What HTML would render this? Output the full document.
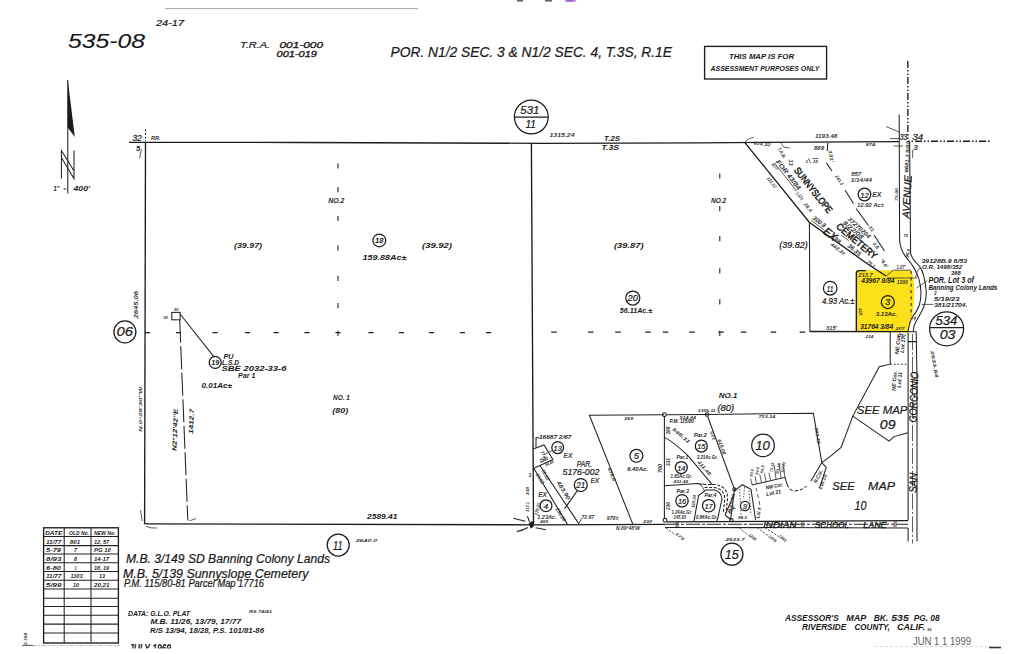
<!DOCTYPE html>
<html lang="en">
<head>
<meta charset="utf-8">
<title>Assessor's Map Bk. 535 Pg. 08</title>
<style>
html,body{margin:0;padding:0;background:#fff;}
body{width:1024px;height:654px;overflow:hidden;position:relative;font-family:"Liberation Sans",sans-serif;}
svg{position:absolute;left:0;top:0;display:block;}
svg text{font-family:"Liberation Sans",sans-serif;font-style:italic;fill:#1a1a1a;stroke:#1a1a1a;stroke-width:.22px;}
.ln{stroke:#222;stroke-width:1.05;fill:none;}
.lt{stroke:#333;stroke-width:0.8;fill:none;}
.hv{stroke:#1c1c1c;stroke-width:1.35;fill:none;}
.ds{stroke:#222;stroke-width:1.1;fill:none;}
.c{stroke:#1c1c1c;stroke-width:1.25;fill:none;}
.b{font-weight:bold;stroke:none;}
.s0{stroke-width:.12px;}
.s1{stroke-width:.32px;}
.s2{stroke-width:.48px;}
.t{font-weight:bold;fill:#333;stroke:none;}
</style>
</head>
<body>
<svg width="1024" height="654" viewBox="0 0 1024 654">
<rect x="0" y="0" width="1024" height="654" fill="#ffffff"/>
<!-- ===== scan artefacts ===== -->
<g id="artefacts">
<line x1="165" y1="8.6" x2="418" y2="8.6" stroke="#9a9a9a" stroke-width="0.9"/>
<rect x="565" y="0" width="11" height="2" fill="#c29ae6"/><rect x="567" y="0" width="6" height="1.4" fill="#9a5fd0"/>
<rect x="517" y="0" width="6" height="1.6" fill="#666"/>
<rect x="545" y="0" width="7" height="1.6" fill="#666"/>
<line x1="22" y1="645.6" x2="120" y2="645.6" stroke="#b5b5b5" stroke-width="0.9" stroke-dasharray="5 1.5 2 1"/>
<line x1="22" y1="645.4" x2="33" y2="645.4" stroke="#666" stroke-width="1.1"/>
<line x1="989" y1="647.5" x2="1001" y2="647.5" stroke="#333" stroke-width="1.6"/>
</g>
<!-- ===== yellow highlighted parcel ===== -->
<path id="hl" d="M858,270.2 L911.6,270.2 L912.4,273 C914.8,285 914.8,300 913.4,308 L912,316.6 C910.5,320 909,326 908,332.2 L855.6,332.2 L855.6,273 Q855.6,270.2 858,270.2 Z" fill="#fae11a"/>
<!-- ===== main section boundary ===== -->
<g id="main">
<polyline class="hv" points="129,142.3 300,142.5 540,143.3 700,142.8 899,141.6"/>
<line class="hv" x1="145.5" y1="142" x2="144.6" y2="524"/>
<polyline class="hv" points="144.6,523.9 533.5,524.8 665,524.3"/>
<line class="hv" x1="531.4" y1="143" x2="533.5" y2="524.8"/>
<!-- quarter-section dashes -->
<path class="ds" d="M338,163.4v5.2M338,187.0v5.2M338,215.9v5.2M338,245.4v5.2M338,275.8v5.2M338,303.0v5.2M338,330.7v5.2M719.8,173.4v5.2M719.8,206.0v5.2M719.8,236.1v5.2M719.8,268.3v5.2M719.8,299.2v5.2M719.8,330.7v5.2M144.9,332.6h5.2M175.9,332.6h5.2M212.4,332.6h5.2M244.9,332.6h5.2M273.6,332.6h5.2M304.4,332.6h5.2M335.4,332.6h5.2M368.4,332.6h5.2M398.9,332.6h5.2M428.9,332.6h5.2M459.8,332.6h5.2M486.0,332.6h5.2M551.2,332.1h5.6M587.9,332.1h5.6M615.2,332.1h5.6M645.2,332.1h5.6M662.7,332.1h5.6M689.2,332.1h5.6M718.2,332.1h5.6M740.8,332.1h5.6M770.6,332.1h5.6M799.7,332.1h5.6"/>
<!-- section corner ticks / dash-dot lines NE corner -->
<line class="ds" x1="145.5" y1="129.5" x2="145.5" y2="141" stroke-dasharray="2 1.6"/>
<line class="hv" x1="907.8" y1="61" x2="907.8" y2="142" stroke-dasharray="7 2 1.5 2 1.5 2"/>
<line class="hv" x1="908" y1="141.2" x2="990" y2="141.2" stroke-dasharray="1.5 2 1.5 2 7 2"/>
</g>
<!-- ===== header texts ===== -->
<g id="header">
<text x="68" y="48" font-size="19.6" textLength="77" lengthAdjust="spacingAndGlyphs" class="s0">535-08</text>
<text x="156" y="25.6" font-size="9.4" textLength="28" lengthAdjust="spacingAndGlyphs">24-17</text>
<text x="240" y="47.6" font-size="9.4" textLength="30" lengthAdjust="spacingAndGlyphs">T.R.A.</text>
<text x="279.5" y="47.6" font-size="8.6" textLength="43.5" lengthAdjust="spacingAndGlyphs" class="s1">001-000</text>
<text x="276.5" y="56.6" font-size="8.4" textLength="40.5" lengthAdjust="spacingAndGlyphs" class="s1">001-019</text>
<text x="390.5" y="57" font-size="14.4" textLength="281.5" lengthAdjust="spacingAndGlyphs">POR. N1/2 SEC. 3 &amp; N1/2 SEC. 4, T.3S, R.1E</text>
<rect class="hv" x="704.6" y="46.4" width="122" height="32.6"/>
<text x="729" y="58.8" font-size="6.3" textLength="65" lengthAdjust="spacingAndGlyphs" class="b">THIS MAP IS FOR</text>
<text x="710.5" y="70.6" font-size="6.3" textLength="109" lengthAdjust="spacingAndGlyphs" class="b">ASSESSMENT PURPOSES ONLY</text>
<!-- adjoining page 531-11 -->
<circle class="c" cx="531.3" cy="117" r="16.9"/>
<line class="c" x1="514.6" y1="117" x2="548" y2="117"/>
<text x="520.3" y="114" font-size="10.6" textLength="19" lengthAdjust="spacingAndGlyphs">531</text>
<text x="525.5" y="128" font-size="11" textLength="10.5" lengthAdjust="spacingAndGlyphs">11</text>
<text x="604" y="140.6" font-size="6.8" textLength="16" lengthAdjust="spacingAndGlyphs" class="b">T.2S</text>
<text x="601.5" y="150" font-size="6.8" textLength="17.5" lengthAdjust="spacingAndGlyphs" class="b">T.3S</text>
<text x="549.5" y="137" font-size="4.6" textLength="25" lengthAdjust="spacingAndGlyphs" class="t">1315.24</text>
</g>
<!-- ===== north arrow ===== -->
<g id="north">
<line class="ln" x1="67.8" y1="80" x2="67.8" y2="193.5"/>
<path d="M67.8,80 L74.8,137 L67.8,127.5 Z" fill="#1a1a1a"/>
<path class="ln" d="M61.4,178.5 V150.5 L74,171 M61.4,157.5 L74,178.5 V150.5" stroke-width="0.9"/>
<text x="53.6" y="191.2" font-size="7.2" textLength="6" lengthAdjust="spacingAndGlyphs" class="b">1"</text>
<text x="63.2" y="190.8" font-size="6" textLength="3" lengthAdjust="spacingAndGlyphs" class="b">=</text>
<text x="73.5" y="191.2" font-size="7.2" textLength="16.5" lengthAdjust="spacingAndGlyphs" class="b">400'</text>
</g>
<!-- ===== west half (sec 4) labels ===== -->
<g id="west">
<text x="132.4" y="140.8" font-size="8.2" textLength="9.4" lengthAdjust="spacingAndGlyphs">32</text>
<text x="151" y="139.6" font-size="5.4" textLength="9.6" lengthAdjust="spacingAndGlyphs" class="t">RR.</text>
<text x="136" y="151" font-size="7.6" class="b">5</text>
<line class="lt" x1="141.5" y1="149" x2="139.5" y2="158.5"/>
<text x="328.3" y="203.4" font-size="6.9" textLength="16" lengthAdjust="spacingAndGlyphs" class="b">NO.2</text>
<text x="234" y="248.4" font-size="7.8" textLength="28" lengthAdjust="spacingAndGlyphs" class="b">(39.97)</text>
<text x="422" y="248.2" font-size="7.8" textLength="30" lengthAdjust="spacingAndGlyphs" class="b">(39.92)</text>
<circle class="c" cx="379.3" cy="240.4" r="6.4"/>
<text x="375" y="243.4" font-size="7.6" textLength="8.6" lengthAdjust="spacingAndGlyphs" class="b">18</text>
<text x="362.5" y="259.8" font-size="7.4" textLength="44" lengthAdjust="spacingAndGlyphs" class="b">159.88Ac±</text>
<!-- page ref 06 -->
<circle class="c" cx="124.9" cy="331.9" r="11"/>
<text x="116.6" y="336.4" font-size="12.4" textLength="16.5" lengthAdjust="spacingAndGlyphs">06</text>
<text transform="translate(137.6,318.5) rotate(-90)" font-size="4.6" textLength="27.5" lengthAdjust="spacingAndGlyphs" class="t">2645.06</text>
<text transform="translate(141.8,432) rotate(-90)" font-size="4.4" textLength="47" lengthAdjust="spacingAndGlyphs" class="t">N.0°28'30"W.</text>
<!-- parcel 19 -->
<rect class="ln" x="171.8" y="312.4" width="8.3" height="7.4"/>
<text x="163.5" y="319" font-size="4.2" class="t">50</text>
<text x="174" y="310.6" font-size="4.2" class="t">50</text>
<line class="ln" x1="180.1" y1="314" x2="214" y2="356.8"/>
<circle class="c" cx="215.2" cy="362.4" r="6"/>
<text x="211.2" y="365.4" font-size="7.6" textLength="8" lengthAdjust="spacingAndGlyphs" class="b">19</text>
<text x="223.5" y="358.6" font-size="6.6" textLength="10" lengthAdjust="spacingAndGlyphs" class="b">PU</text>
<text x="222" y="364.6" font-size="6.4" textLength="17" lengthAdjust="spacingAndGlyphs" class="b">L.S.D</text>
<text x="221.5" y="370.8" font-size="6.8" textLength="65" lengthAdjust="spacingAndGlyphs" class="b">SBE 2032-33-6</text>
<text x="238" y="378.4" font-size="6.6" textLength="17.5" lengthAdjust="spacingAndGlyphs" class="b">Par 1</text>
<text x="201.5" y="387.6" font-size="6.8" textLength="30.5" lengthAdjust="spacingAndGlyphs" class="b">0.01Ac±</text>
<line class="ln" x1="179.7" y1="319.8" x2="187.8" y2="520.5" stroke-dasharray="23 3.5"/>
<path class="lt" d="M189.5,520.8 L196,518.6"/>
<text transform="translate(176.5,451) rotate(-88)" font-size="6.2" textLength="42" lengthAdjust="spacingAndGlyphs" class="b">N2°12'42"E</text>
<text transform="translate(193,434) rotate(-88)" font-size="6.2" textLength="25" lengthAdjust="spacingAndGlyphs" class="b">1412.7</text>
<text x="333" y="400.4" font-size="6.9" textLength="16.8" lengthAdjust="spacingAndGlyphs" class="b">NO. 1</text>
<text x="332.2" y="413" font-size="7.6" textLength="16" lengthAdjust="spacingAndGlyphs" class="b">(80)</text>
<text x="367" y="518.8" font-size="6.4" textLength="30.5" lengthAdjust="spacingAndGlyphs" class="b">2589.41</text>
<path class="lt" d="M140.5,510 L142.2,521 M146,526.4 Q151,528.6 157,528"/>
<!-- page ref 11 -->
<circle class="c" cx="338.2" cy="545" r="11"/>
<text x="333" y="549.6" font-size="12.4" textLength="9.5" lengthAdjust="spacingAndGlyphs">11</text>
<text x="355.7" y="541.6" font-size="4.4" textLength="21.5" lengthAdjust="spacingAndGlyphs" class="t">2640.0</text>
</g>
<!-- ===== east half (sec 3) labels ===== -->
<g id="east">
<text x="711" y="203" font-size="6.9" textLength="15.2" lengthAdjust="spacingAndGlyphs" class="b">NO.2</text>
<text x="614" y="248.2" font-size="7.8" textLength="29.6" lengthAdjust="spacingAndGlyphs" class="b">(39.87)</text>
<text x="779.3" y="248.2" font-size="8.6" textLength="28.4" lengthAdjust="spacingAndGlyphs">(39.82)</text>
<circle class="c" cx="632.8" cy="298" r="7"/>
<text x="627.6" y="301.4" font-size="8.8" textLength="10.4" lengthAdjust="spacingAndGlyphs">20</text>
<text x="619.8" y="313.2" font-size="6.6" textLength="32.4" lengthAdjust="spacingAndGlyphs" class="b">56.11Ac.±</text>
<text x="718.8" y="397.6" font-size="6.9" textLength="18.6" lengthAdjust="spacingAndGlyphs" class="b">NO.1</text>
<text x="717.4" y="411" font-size="8.4" textLength="16.8" lengthAdjust="spacingAndGlyphs">(80)</text>
</g>
<!-- ===== NE corner: cemetery, parcels 11, 12, 3, avenue ===== -->
<g id="ne">
<!-- cemetery west line (A) and strip line (B) -->
<polyline class="hv" points="744.9,142.6 809.3,222.2 867.3,263.8 886,276"/>
<path class="lt" d="M744.9,142.5 Q747,138.6 753.8,137.4"/>
<line class="ln" x1="809.4" y1="222" x2="809.9" y2="331.5"/>
<!-- east dashed line (C) -->
<path class="ln" d="M827.9,142.5 L827.2,151 M826.4,162.9 L832,171 M845,190 L853.5,203.5 M856,208.5 L868.5,225.5 M874,235 L884.5,251"/>
<path class="lt" d="M884.6,262 l-2,-3 M886.4,275.8 L893.2,270.2 M893.2,270.2 H911 M887,278 H917"/>
<!-- parcel 11 / 3 -->
<polyline class="hv" points="809.9,331.5 908,331.6"/>
<path class="hv" d="M856.4,331.6 V273 Q856.4,270.6 859.4,270.6 L866,270.6"/>
<path class="ln" d="M911.1,271 V316" stroke-dasharray="3 3.4"/>
<!-- avenue road edges -->
<path class="ln" d="M899.2,114.5 L899.6,240 C900,249 903,254 907.7,259.4 C912,264 916,270 918.7,278.7 C921,286 921.8,296 919.4,305 C918,309 915,314 912.2,317.2 C910.5,320 909,326 908,331.6"/>
<path class="ln" d="M909.6,141.5 L910.6,253.5 C911.6,257 915,262 919.5,266.1 C922.5,270 925,279 926.2,290.5 C926.4,295 926,300 924.4,305 C923,309 921.5,312 920.6,313.3 C918,318 915,323 914.1,325.6 L913.2,331.7"/>
<!-- NE section corner -->
<text x="899.8" y="140" font-size="8.2" textLength="7.6" lengthAdjust="spacingAndGlyphs">33</text>
<text x="912.4" y="140" font-size="8.2" textLength="10.6" lengthAdjust="spacingAndGlyphs">34</text>
<text x="913.2" y="149.6" font-size="8">3</text>
<path class="lt" d="M886,126.5 L899,132 M890,138.6 H899 M893.5,146 H903 M912.6,150 V158"/>
<!-- avenue label -->
<text transform="translate(909.4,218.5) rotate(-87)" font-size="10.4" textLength="43" lengthAdjust="spacingAndGlyphs">AVENUE</text>
<line class="lt" x1="911.6" y1="176" x2="910" y2="192"/>
<text transform="translate(908.2,172.5) rotate(-87)" font-size="5.2" textLength="31" lengthAdjust="spacingAndGlyphs" class="t">6681.3 9/82</text>
<text transform="translate(898.2,201) rotate(-90)" font-size="4.4" textLength="13" lengthAdjust="spacingAndGlyphs" class="t">75.00</text>
<text x="903.5" y="237" font-size="4.2" class="t">75</text>
<text transform="translate(908.6,258) rotate(-80)" font-size="4.6" textLength="9" lengthAdjust="spacingAndGlyphs" class="t">95.6</text>
<!-- cemetery lettering -->
<text transform="translate(793.4,170.4) rotate(51.5)" font-size="9.6" textLength="55.5" lengthAdjust="spacingAndGlyphs" style="font-style:normal" class="s2">SUNNYSLOPE</text>
<text transform="translate(835.6,227.6) rotate(40)" font-size="9.6" textLength="50" lengthAdjust="spacingAndGlyphs" style="font-style:normal" class="s2">CEMETERY</text>
<text transform="translate(789.4,159.4) rotate(90)" font-size="5.6" class="t">13</text>
<!-- strip annotations -->
<text transform="translate(777.5,148.5) rotate(62)" font-size="4.8" textLength="12" lengthAdjust="spacingAndGlyphs" class="t">T.A.B.</text>
<text transform="translate(775.6,162) rotate(52)" font-size="6.6" textLength="36" lengthAdjust="spacingAndGlyphs" class="t">FOR 43/84</text>
<line class="lt" x1="774.6" y1="163" x2="796.8" y2="191.4"/>
<text transform="translate(771.2,164.6) rotate(52)" font-size="4.4" textLength="8" lengthAdjust="spacingAndGlyphs" class="t">677</text>
<text transform="translate(795.6,193.4) rotate(52)" font-size="4.8" textLength="9" lengthAdjust="spacingAndGlyphs" class="t">1.57±</text>
<text transform="translate(803.6,204.6) rotate(52)" font-size="5" textLength="10" lengthAdjust="spacingAndGlyphs" class="t">26.4</text>
<text transform="translate(812,219) rotate(37)" font-size="6.4" textLength="15" lengthAdjust="spacingAndGlyphs" class="t">300.8</text>
<line class="lt" x1="811.2" y1="220.4" x2="824.4" y2="230.2"/>
<text transform="translate(822.6,232.8) rotate(38)" font-size="11" textLength="14" lengthAdjust="spacingAndGlyphs" class="s2">EX</text>
<text transform="translate(833.4,239.6) rotate(38)" font-size="5.6" textLength="7" lengthAdjust="spacingAndGlyphs" class="t">98</text>
<text transform="translate(766.4,178.4) rotate(51)" font-size="4.6" textLength="13" lengthAdjust="spacingAndGlyphs" class="t">121.12</text>
<text transform="translate(830.2,245.2) rotate(37)" font-size="5" textLength="17" lengthAdjust="spacingAndGlyphs" class="t">442.3±</text>
<text transform="translate(847,246.4) rotate(40)" font-size="6.2" textLength="15.5" lengthAdjust="spacingAndGlyphs" class="t">36.35</text>
<line class="lt" x1="841.2" y1="235.2" x2="848.8" y2="240.8"/>
<text transform="translate(866.6,262.6) rotate(38)" font-size="4.8" textLength="9" lengthAdjust="spacingAndGlyphs" class="t">75.1</text>
<text transform="translate(847.2,219.8) rotate(42)" font-size="6.2" textLength="28.5" lengthAdjust="spacingAndGlyphs" class="t">37270204</text>
<text transform="translate(842.6,223.6) rotate(40)" font-size="6.2" textLength="24.5" lengthAdjust="spacingAndGlyphs" class="t">8/22/08</text>
<text transform="translate(835,176.5) rotate(56)" font-size="4.6" textLength="11" lengthAdjust="spacingAndGlyphs" class="t">241.3</text>
<text transform="translate(868.5,227) rotate(56)" font-size="4.6" textLength="6" lengthAdjust="spacingAndGlyphs" class="t">31</text>
<text transform="translate(872.6,243.6) rotate(56)" font-size="4.8" textLength="7" lengthAdjust="spacingAndGlyphs" class="t">3.6</text>
<text transform="translate(881,261.6) rotate(56)" font-size="4.8" textLength="8" lengthAdjust="spacingAndGlyphs" class="t">4.6'</text>
<text transform="translate(828.4,150.5) rotate(80)" font-size="4.8" textLength="12" lengthAdjust="spacingAndGlyphs" class="t">131'</text>
<!-- top-line annotations -->
<text transform="translate(753.4,144.6) rotate(6)" font-size="4.4" textLength="17" lengthAdjust="spacingAndGlyphs" class="t">674.32</text>
<text x="815" y="138.4" font-size="4.8" textLength="22.5" lengthAdjust="spacingAndGlyphs" class="t">1193.48</text>
<text x="814" y="150.2" font-size="4.6" textLength="10" lengthAdjust="spacingAndGlyphs" class="t">889</text>
<text x="865.8" y="146.4" font-size="4.4" textLength="10" lengthAdjust="spacingAndGlyphs" class="t">87A</text>
<path class="lt" d="M781,143 l2.5,4 l6,1 M808,158 l3,5 M812.5,158.6 h6"/>
<text x="805.5" y="162.5" font-size="4.4" class="t">1</text>
<text x="813" y="163" font-size="4.4" class="t">15</text>
<!-- parcel 12 -->
<text x="851.2" y="176" font-size="5.4" textLength="10" lengthAdjust="spacingAndGlyphs" class="t">857</text>
<text x="850.7" y="182.4" font-size="5.6" textLength="21.4" lengthAdjust="spacingAndGlyphs" class="t">1/14/44</text>
<circle class="c" cx="864.5" cy="194.5" r="6.3"/>
<text x="860.2" y="197.6" font-size="8" textLength="8.6" lengthAdjust="spacingAndGlyphs">12</text>
<text x="872.2" y="197.4" font-size="8" textLength="9.2" lengthAdjust="spacingAndGlyphs">EX</text>
<text x="857" y="207.4" font-size="5.6" textLength="27" lengthAdjust="spacingAndGlyphs" class="t">12.92 Ac±</text>
<!-- parcel 11 -->
<circle class="c" cx="830.2" cy="288.2" r="6.8"/>
<text x="826.6" y="291.6" font-size="9" textLength="7" lengthAdjust="spacingAndGlyphs">11</text>
<text x="821.9" y="304.4" font-size="8.4" textLength="32.6" lengthAdjust="spacingAndGlyphs">4.93 Ac.±</text>
<text x="826" y="329.6" font-size="4.6" textLength="11" lengthAdjust="spacingAndGlyphs" class="t">315'</text>
<text transform="translate(858.4,308.6) rotate(80)" font-size="4.4" textLength="7" lengthAdjust="spacingAndGlyphs" class="t">418</text>
<!-- parcel 3 (highlighted) -->
<text x="858.6" y="277" font-size="4.6" textLength="14" lengthAdjust="spacingAndGlyphs" class="t">213.7</text>
<text x="861.2" y="282.8" font-size="6.4" textLength="33.4" lengthAdjust="spacingAndGlyphs" class="b">43967 8/84</text>
<text x="896.5" y="269.4" font-size="4.6" textLength="9" lengthAdjust="spacingAndGlyphs" class="t">1.07'</text>
<text x="896.8" y="284" font-size="4.6" textLength="11" lengthAdjust="spacingAndGlyphs" class="t">1200</text>
<circle class="c" cx="887.8" cy="302" r="6.5"/>
<text x="885.2" y="305.4" font-size="9" textLength="5" lengthAdjust="spacingAndGlyphs">3</text>
<text x="875.8" y="315.8" font-size="6" textLength="21.2" lengthAdjust="spacingAndGlyphs" class="b">3.13Ac.</text>
<text x="860.2" y="329.2" font-size="6.4" textLength="33" lengthAdjust="spacingAndGlyphs" class="b">31764 3/84</text>
<text x="895.5" y="330.4" font-size="4.2" textLength="9" lengthAdjust="spacingAndGlyphs" class="t">207</text>
<text x="865.5" y="337.6" font-size="4.4" textLength="8" lengthAdjust="spacingAndGlyphs" class="t">214</text>
<path class="lt" d="M912,319 l3.5,-2 l-1,3.4"/>
<!-- notes east of avenue -->
<text x="921.4" y="263" font-size="6.2" textLength="45.8" lengthAdjust="spacingAndGlyphs" class="b">39128B.9 6/53</text>
<text x="922" y="269.2" font-size="6.2" textLength="40.2" lengthAdjust="spacingAndGlyphs" class="b">O.R. 1498/352</text>
<text x="951" y="275.2" font-size="6" textLength="9.6" lengthAdjust="spacingAndGlyphs" class="b">368</text>
<text x="928.4" y="282.8" font-size="8.2" textLength="45.6" lengthAdjust="spacingAndGlyphs" class="b">POR. Lot 3 of</text>
<text x="928.4" y="289.8" font-size="7.6" textLength="69" lengthAdjust="spacingAndGlyphs" class="b">Banning Colony Lands</text>
<text x="934" y="295" font-size="4.8" class="t">2</text>
<text x="934" y="300.8" font-size="6.2" textLength="25.6" lengthAdjust="spacingAndGlyphs" class="b">5/19/23</text>
<text x="934" y="306.6" font-size="6.2" textLength="33.4" lengthAdjust="spacingAndGlyphs" class="b">381/21704.</text>
<path class="lt" d="M927.2,280.6 L916.4,288.2 M933.4,304.4 H921.6 M921,267 Q917,270 915.6,277.6"/>
<!-- adjoining page 534-03 -->
<circle class="c" cx="946.6" cy="328.8" r="17"/>
<line class="c" x1="929.7" y1="327.6" x2="963.5" y2="327.6"/>
<text x="935.4" y="325" font-size="13" textLength="21.8" lengthAdjust="spacingAndGlyphs">534</text>
<text x="939.7" y="338.6" font-size="13" textLength="15.8" lengthAdjust="spacingAndGlyphs">03</text>
</g>
<!-- ===== SE area: parcels 4, 13, 21, 5, 14-17, 9, 10, see-map areas, roads ===== -->
<g id="se">
<!-- parcel 13 / 4 / 21 -->
<path class="ln" d="M533.2,449 L544,445 L552.9,459.5 L533,468.8"/>
<path class="ln" d="M536,447.6 V437.8 H539.2"/>
<line class="lt" x1="540.6" y1="462.6" x2="548" y2="459.2"/>
<path class="ln" d="M534.2,469 L567.5,524.6 M540.2,466 L579.4,524.6"/>
<text x="539" y="438.8" font-size="6.2" textLength="32.4" lengthAdjust="spacingAndGlyphs" class="b">16687 2/67</text>
<circle class="c" cx="557.7" cy="447.6" r="5.9"/>
<text x="553.6" y="450.6" font-size="7.8" textLength="8.2" lengthAdjust="spacingAndGlyphs">13</text>
<line class="lt" x1="552.4" y1="450.4" x2="545.6" y2="453.8"/>
<text x="563.6" y="457.8" font-size="8" textLength="8.8" lengthAdjust="spacingAndGlyphs">EX</text>
<text transform="translate(540.5,452) rotate(58)" font-size="4.4" textLength="9" lengthAdjust="spacingAndGlyphs" class="t">77.2</text>
<text transform="translate(540.5,462.5) rotate(-28)" font-size="5" textLength="7" lengthAdjust="spacingAndGlyphs" class="t">150</text>
<text transform="translate(546,466.8) rotate(-28)" font-size="4.6" textLength="9" lengthAdjust="spacingAndGlyphs" class="t">94.45</text>
<text x="576.7" y="467.2" font-size="8.2" textLength="15.4" lengthAdjust="spacingAndGlyphs">PAR.</text>
<text x="562.6" y="475.4" font-size="8.6" textLength="36.8" lengthAdjust="spacingAndGlyphs">5176-002</text>
<circle class="c" cx="580.8" cy="485" r="6.5"/>
<text x="576.2" y="488.4" font-size="8.8" textLength="9" lengthAdjust="spacingAndGlyphs">21</text>
<text x="590.4" y="483.4" font-size="8" textLength="8.6" lengthAdjust="spacingAndGlyphs">EX</text>
<line class="ln" x1="577.4" y1="490.6" x2="564.6" y2="508.6"/>
<text transform="translate(556.6,482.6) rotate(58.5)" font-size="5.6" textLength="20.5" lengthAdjust="spacingAndGlyphs" class="t">483.90</text>
<text transform="translate(541,470.6) rotate(58.5)" font-size="4.8" textLength="12" lengthAdjust="spacingAndGlyphs" class="t">72.12</text>
<text transform="translate(535.6,474.4) rotate(58.5)" font-size="4.8" textLength="12" lengthAdjust="spacingAndGlyphs" class="t">34.51</text>
<text transform="translate(555.5,509) rotate(58.5)" font-size="4.8" textLength="15" lengthAdjust="spacingAndGlyphs" class="t">238.20</text>
<text x="528.4" y="477.4" font-size="5.4" class="t">1</text>
<text transform="translate(529.4,495) rotate(-90)" font-size="4.2" textLength="8" lengthAdjust="spacingAndGlyphs" class="t">418</text>
<text transform="translate(528.6,512) rotate(-90)" font-size="4.2" textLength="10" lengthAdjust="spacingAndGlyphs" class="t">317.1</text>
<text transform="translate(537.6,515.4) rotate(-75)" font-size="4.8" textLength="12" lengthAdjust="spacingAndGlyphs" class="t">179.20</text>
<text x="538.2" y="497" font-size="8" textLength="8.8" lengthAdjust="spacingAndGlyphs">EX</text>
<circle class="c" cx="546" cy="505.7" r="5.9"/>
<text x="543.6" y="508.8" font-size="8" textLength="4.8" lengthAdjust="spacingAndGlyphs">4</text>
<text x="537.2" y="518.6" font-size="5.6" textLength="19.6" lengthAdjust="spacingAndGlyphs" class="t">1.23Ac.</text>
<text x="540" y="523" font-size="4" textLength="8" lengthAdjust="spacingAndGlyphs" class="t">469</text>
<text x="581.4" y="518.6" font-size="5.4" textLength="12.6" lengthAdjust="spacingAndGlyphs" class="t">72.97</text>
<path class="lt" d="M579.4,523 L581.2,518.6"/>
<path d="M528.4,524 L531.2,521.4 L534.6,521.2 L533.4,524.2 L533.6,526.6 L530.6,528.8 L530,526.4 Z" fill="#1a1a1a"/>
<path class="ln" stroke-width="1.2" d="M513.4,518.3 L525.3,521.2 M516.7,531.5 Q523,530.6 527.7,527.5 M546,529.7 L535.7,527.8 M527.4,516.2 L529.6,522"/>
<text x="606.7" y="520" font-size="5.4" textLength="11.8" lengthAdjust="spacingAndGlyphs" class="t">970±</text>
<text x="616" y="529.6" font-size="4.6" textLength="24" lengthAdjust="spacingAndGlyphs" class="t">N.89°48'W</text>
<!-- parcel 5 -->
<polyline class="ln" points="633,524.6 589.4,415.3 664.4,414.7"/>
<circle class="c" cx="636.4" cy="455.8" r="6.5"/>
<text x="633.8" y="459.2" font-size="9" textLength="5.2" lengthAdjust="spacingAndGlyphs">5</text>
<text x="627.2" y="471" font-size="6" textLength="20.6" lengthAdjust="spacingAndGlyphs" class="b">6.40Ac.</text>
<text x="624.3" y="420" font-size="4.4" textLength="9" lengthAdjust="spacingAndGlyphs" class="t">269</text>
<text transform="translate(607.6,468.4) rotate(68)" font-size="4.8" textLength="14" lengthAdjust="spacingAndGlyphs" class="t">676.8</text>
<text transform="translate(662.4,473) rotate(-90)" font-size="4.6" textLength="9" lengthAdjust="spacingAndGlyphs" class="t">760</text>
<text x="643" y="522.6" font-size="4.4" textLength="9" lengthAdjust="spacingAndGlyphs" class="t">230</text>
<!-- parcels 14-17 -->
<line class="ln" x1="664.4" y1="416.6" x2="664.4" y2="518.4"/>
<circle cx="664.4" cy="414.7" r="1.9" fill="#fff" class="ln"/>
<circle cx="665" cy="520.3" r="1.9" fill="#fff" class="ln"/>
<polyline class="ln" points="666.2,414.7 707,414.4 813.4,413.3 821.8,462.6"/>
<circle cx="707" cy="414.5" r="1.7" fill="#fff" class="ln"/>
<path class="ln" d="M707.6,416.2 L734.4,489 L730.8,518"/>
<circle cx="734.4" cy="489.4" r="1.6" fill="#fff" class="ln"/>
<path class="ln" d="M664.4,437.4 C672,441 680,448 689.1,456.8 L712.6,485.1"/>
<path class="ln" d="M664.4,485.8 L698,483.6 Q700.5,483.6 701.6,485.4"/>
<text x="669.6" y="423.2" font-size="5.8" textLength="24.4" lengthAdjust="spacingAndGlyphs" class="b">P.M. 115/80</text>
<text x="679.4" y="418.8" font-size="4.2" textLength="16.6" lengthAdjust="spacingAndGlyphs" class="t">514.94</text>
<text x="698" y="412.2" font-size="4.4" textLength="17.6" lengthAdjust="spacingAndGlyphs" class="t">1356.11</text>
<text x="758.6" y="417.8" font-size="4.4" textLength="16.6" lengthAdjust="spacingAndGlyphs" class="t">753.14</text>
<text transform="translate(669.8,434.6) rotate(-90)" font-size="4.6" textLength="8" lengthAdjust="spacingAndGlyphs" class="t">168</text>
<text transform="translate(671.6,429.6) rotate(40)" font-size="4.8" textLength="22" lengthAdjust="spacingAndGlyphs" class="t">346.11</text>
<text transform="translate(697,462.4) rotate(48)" font-size="4.8" textLength="18" lengthAdjust="spacingAndGlyphs" class="t">411.48</text>
<text transform="translate(669.6,466) rotate(-90)" font-size="4.6" textLength="8" lengthAdjust="spacingAndGlyphs" class="t">331</text>
<text transform="translate(669.6,510) rotate(-90)" font-size="4.6" textLength="8" lengthAdjust="spacingAndGlyphs" class="t">230</text>
<text x="694" y="437.4" font-size="5.8" textLength="12.8" lengthAdjust="spacingAndGlyphs" class="b">Par.2</text>
<circle class="c" cx="701.3" cy="446" r="6"/>
<text x="697.2" y="449.2" font-size="8" textLength="8.2" lengthAdjust="spacingAndGlyphs">15</text>
<text x="697" y="458.8" font-size="5.6" textLength="20.5" lengthAdjust="spacingAndGlyphs" class="b">3.23Ac.Gr.</text>
<text x="676.4" y="458.8" font-size="5.6" textLength="11.8" lengthAdjust="spacingAndGlyphs" class="b">Par.1</text>
<circle class="c" cx="681.3" cy="467.5" r="6"/>
<text x="677.2" y="470.6" font-size="8" textLength="8.2" lengthAdjust="spacingAndGlyphs">14</text>
<text x="670.5" y="478.4" font-size="5.4" textLength="21.5" lengthAdjust="spacingAndGlyphs" class="b">1.63Ac.Gr.</text>
<text x="673.5" y="483.4" font-size="4.4" textLength="14.6" lengthAdjust="spacingAndGlyphs" class="t">431.48</text>
<text x="676.4" y="492.6" font-size="5.6" textLength="12.6" lengthAdjust="spacingAndGlyphs" class="b">Par.3</text>
<circle class="c" cx="682" cy="500.8" r="6.2"/>
<text x="678" y="504" font-size="8" textLength="8.2" lengthAdjust="spacingAndGlyphs">16</text>
<text x="671.5" y="513.6" font-size="5.4" textLength="20.5" lengthAdjust="spacingAndGlyphs" class="b">1.24Ac.Gr.</text>
<text x="673.5" y="518.6" font-size="4.6" textLength="12.6" lengthAdjust="spacingAndGlyphs" class="t">145.93</text>
<text transform="translate(694.6,508) rotate(-84)" font-size="4.4" textLength="13" lengthAdjust="spacingAndGlyphs" class="t">169.54</text>
<!-- parcel 17 and curved lane -->
<path class="ln" d="M693.9,521.6 L696.3,508 L698.6,495.6 L705.6,490 H714.5 Q721,491.5 722,498.8 L718,517.5 L716.4,521.6"/>
<path class="lt" d="M700,484.4 Q703,483 706,484.8 M701.6,485.4 L704.6,491" />
<path class="ln" d="M704.5,487.4 H714 Q724.6,489 724.8,499 L723.4,512" stroke-dasharray="3 1.6"/>
<path class="ln" d="M703.5,484.4 H715 Q727.6,486.4 727.6,498 L726,513" stroke-dasharray="3 1.6"/>
<text x="704.4" y="497.4" font-size="5.6" textLength="12" lengthAdjust="spacingAndGlyphs" class="b">Par.4</text>
<circle class="c" cx="708.7" cy="505.7" r="6.2"/>
<text x="704.8" y="508.8" font-size="8" textLength="7.8" lengthAdjust="spacingAndGlyphs">17</text>
<text x="696" y="518.6" font-size="5.4" textLength="21.5" lengthAdjust="spacingAndGlyphs" class="b">0.84Ac.Gr.</text>
<text transform="translate(709.8,432) rotate(70)" font-size="4.4" textLength="9" lengthAdjust="spacingAndGlyphs" class="t">N.6°E</text>
<text transform="translate(717.4,440) rotate(70)" font-size="5" textLength="16" lengthAdjust="spacingAndGlyphs" class="t">615.08</text>
<text transform="translate(731.6,512) rotate(-80)" font-size="4.4" textLength="18" lengthAdjust="spacingAndGlyphs" class="t">132.30</text>
<!-- parcel 9 -->
<path class="ln" d="M734.4,491 L742.3,484.7 L751,489.4 L755.6,519.8 M725,515 L731.4,520 M725,515 L734.2,494"/>
<circle cx="731.4" cy="520" r="1.7" fill="#fff" class="ln"/>
<circle class="c" cx="745" cy="506" r="4.6"/>
<text x="743" y="508.6" font-size="7" textLength="4" lengthAdjust="spacingAndGlyphs">9</text>
<path class="lt" d="M739.6,489 l1.6,28 M744.6,487 l-1,11 M749,490.6 l2,24" stroke-dasharray="1.6 1.4"/>
<text transform="translate(729.5,514) rotate(-42)" font-size="5" textLength="9" lengthAdjust="spacingAndGlyphs" class="t">EX</text>
<text x="738" y="519.4" font-size="4.2" textLength="9" lengthAdjust="spacingAndGlyphs" class="t">94.5</text>
<text transform="translate(759.4,518.4) rotate(-80)" font-size="5.2" textLength="11" lengthAdjust="spacingAndGlyphs" class="t">Lot A</text>
<!-- small lots north of NW Cor lot 21 -->
<path class="ln" d="M751.8,485.1 L785,477.3 L787,484.2"/>
<path class="ln" d="M787,484.2 Q789,490 794,491 Q800,491.2 806.6,486.2" stroke-dasharray="3.4 2"/>
<path class="lt" d="M752,484.6 l-1.4,-6 M756.6,483.6 l-1.6,-7.4 M761.4,482.4 l-1.6,-8 M766,481.4 l-1.6,-8 M770.6,480.4 l-1.6,-7.6 M776,479 l-1.8,-14 M781,478 l-1.8,-14 M785,477.3 l-2,-14"/>
<text transform="translate(752.4,477) rotate(-80)" font-size="4" textLength="8" lengthAdjust="spacingAndGlyphs" class="t">50.5</text>
<text transform="translate(758,475) rotate(-80)" font-size="4" textLength="8" lengthAdjust="spacingAndGlyphs" class="t">54.5</text>
<text transform="translate(763,473.4) rotate(-80)" font-size="4" textLength="8" lengthAdjust="spacingAndGlyphs" class="t">54.5</text>
<text transform="translate(772.6,472) rotate(-80)" font-size="4" textLength="9" lengthAdjust="spacingAndGlyphs" class="t">75.18</text>
<text transform="translate(778.6,474) rotate(-80)" font-size="4" textLength="11" lengthAdjust="spacingAndGlyphs" class="t">93.16</text>
<text transform="translate(783.6,473) rotate(-80)" font-size="4" textLength="11" lengthAdjust="spacingAndGlyphs" class="t">117.21</text>
<text transform="translate(766,489.6) rotate(-11)" font-size="5.4" textLength="17.5" lengthAdjust="spacingAndGlyphs" class="b">NW Cor.</text>
<text transform="translate(766.6,496) rotate(-11)" font-size="5.4" textLength="15" lengthAdjust="spacingAndGlyphs" class="b">Lot 21</text>
<path class="lt" d="M756,488 l1,3.4 M757.4,494 l1,4 M759,501 l0.8,4" />
<!-- parcel 10 -->
<circle class="c" cx="763" cy="445.4" r="11.3"/>
<text x="755.2" y="450.4" font-size="13.4" textLength="14.6" lengthAdjust="spacingAndGlyphs">10</text>
<text transform="translate(814.4,427.4) rotate(80)" font-size="4.6" textLength="17" lengthAdjust="spacingAndGlyphs" class="t">383.49</text>
<!-- N cor lot 19 -->
<path class="ln" d="M821.8,462.6 L826.2,467.4 L819.6,488 M821.8,462.6 L811,481"/>
<text transform="translate(816.6,483.4) rotate(-64)" font-size="5.4" textLength="14" lengthAdjust="spacingAndGlyphs" class="t">N.Cor.</text>
<text transform="translate(821.6,489.4) rotate(-68)" font-size="5.4" textLength="15" lengthAdjust="spacingAndGlyphs" class="t">Lot 19</text>
<!-- see map 09 / 10 outlines -->
<polyline class="ln" points="821.8,462.6 829.4,457.2 841.1,447.4 852.8,416.1 879.3,366.8 890.2,364.2 890.2,331.6"/>
<polyline class="ln" points="852.8,416.1 889,441.2 894,436.6 908,432.8"/>
<line class="ln" x1="890.4" y1="364.2" x2="908" y2="364.2" stroke-dasharray="1.6 2"/>
<text x="856.8" y="413.8" font-size="11.8" textLength="50.6" lengthAdjust="spacingAndGlyphs">SEE MAP</text>
<text x="879.8" y="428.8" font-size="12" textLength="15.8" lengthAdjust="spacingAndGlyphs">09</text>
<text x="832.3" y="489.8" font-size="11.8" textLength="22.5" lengthAdjust="spacingAndGlyphs">SEE</text>
<text x="868.1" y="489.8" font-size="11.8" textLength="26.8" lengthAdjust="spacingAndGlyphs">MAP</text>
<text x="854.4" y="510.2" font-size="12" textLength="12" lengthAdjust="spacingAndGlyphs">10</text>
<text transform="translate(898.6,354.6) rotate(-85)" font-size="5.2" textLength="21" lengthAdjust="spacingAndGlyphs" class="b">NE Cor.</text>
<text transform="translate(903.8,353) rotate(-85)" font-size="5.2" textLength="18" lengthAdjust="spacingAndGlyphs" class="b">Lot 17.</text>
<text transform="translate(895.2,391) rotate(-85)" font-size="5.2" textLength="20" lengthAdjust="spacingAndGlyphs" class="b">NE Cor.</text>
<text transform="translate(900.6,388) rotate(-85)" font-size="5.2" textLength="16" lengthAdjust="spacingAndGlyphs" class="b">Lot 11</text>
<text transform="translate(930.6,351) rotate(80)" font-size="4.6" textLength="27" lengthAdjust="spacingAndGlyphs" class="t">2633.64</text>
<path class="lt" d="M899.5,333 l4,3 M906,334.6 l-5.6,5.4"/>
<text x="897" y="336.6" font-size="3.8" class="t">127</text>
<!-- San Gorgonio Avenue -->
<path class="ln" d="M908.1,332.4V520.6M908.1,527.9V541.6"/>
<path class="ln" d="M916.2,331.8 L917,380 V541.6 M908,331.8 H916.2 M908,341.6 H916.4"/>
<line class="lt" x1="912.5" y1="334" x2="912.5" y2="543.4" stroke-dasharray="16 2.4 2 2.4"/>
<text transform="translate(916.6,422.4) rotate(-88)" font-size="10.8" textLength="50.4" lengthAdjust="spacingAndGlyphs" class="s1">GORGONIO</text>
<text transform="translate(916.6,492.8) rotate(-88)" font-size="10.8" textLength="19.8" lengthAdjust="spacingAndGlyphs" class="s1">SAN</text>
<!-- Indian School Lane -->
<polyline class="hv" points="666.8,521.9 908,520.6"/>
<polyline class="ln" points="665,524.2 740,524.3 908,524.2" stroke-dasharray="14 2 3 2"/>
<polyline class="ln" points="665,527.4 908,527.9"/>
<text x="763" y="527.8" font-size="9.2" textLength="33.5" lengthAdjust="spacingAndGlyphs" class="s1">INDIAN</text>
<text x="815" y="527.8" font-size="9.2" textLength="34" lengthAdjust="spacingAndGlyphs" class="s1">SCHOOL</text>
<text x="863.2" y="527.8" font-size="9.2" textLength="23.4" lengthAdjust="spacingAndGlyphs" class="s1">LANE</text>
<text x="800.6" y="523.6" font-size="3.6" class="t">30</text>
<text x="800.6" y="527" font-size="3.6" class="t">30</text>
<text x="893" y="523.6" font-size="3.6" class="t">30</text>
<text x="893" y="527" font-size="3.6" class="t">30</text>
<text x="675" y="523.8" font-size="3.6" class="t">30</text>
<text x="675" y="527.4" font-size="3.6" class="t">30</text>
<path class="lt" d="M666,528 L674,534 M739,527.6 L748,535 M757,527.6 L769,536.4 M765,527.8 L778,536" stroke-dasharray="2.4 1.2"/>
<text transform="translate(675,534.6) rotate(38)" font-size="4.2" textLength="10" lengthAdjust="spacingAndGlyphs" class="t">17'8</text>
<text transform="translate(748,535.4) rotate(38)" font-size="4.2" textLength="9" lengthAdjust="spacingAndGlyphs" class="t">1208</text>
<text transform="translate(768,537) rotate(38)" font-size="4.2" textLength="9" lengthAdjust="spacingAndGlyphs" class="t">1478</text>
<text transform="translate(778,536.6) rotate(38)" font-size="4.2" textLength="9" lengthAdjust="spacingAndGlyphs" class="t">1483</text>
<text x="725.6" y="541.4" font-size="4.2" textLength="19" lengthAdjust="spacingAndGlyphs" class="t">2633.7</text>
<circle class="c" cx="731.9" cy="554.2" r="11"/>
<text x="724.8" y="558.8" font-size="12.4" textLength="14" lengthAdjust="spacingAndGlyphs">15</text>
</g>
<!-- ===== revision table ===== -->
<g id="table">
<rect class="hv" x="43.6" y="527.8" width="74.8" height="115.2" stroke-width="1.5"/>
<path class="ln" d="M43.6,536.4H118.4M43.6,545.6H118.4M43.6,553.9H118.4M43.6,562.7H118.4M43.6,571.5H118.4M43.6,580.2H118.4M43.6,589H118.4M43.6,598.3H118.4M43.6,606.5H118.4M43.6,615.3H118.4M43.6,624.1H118.4M43.6,632.9H118.4M64.2,527.8V642.8M91,527.8V642.8"/>
<text x="45.2" y="534.6" font-size="5.2" textLength="17" lengthAdjust="spacingAndGlyphs" class="b">DATE</text>
<text x="69" y="534.6" font-size="5.2" textLength="20" lengthAdjust="spacingAndGlyphs" class="b">OLD No.</text>
<text x="94" y="534.6" font-size="5.2" textLength="21.6" lengthAdjust="spacingAndGlyphs" class="b">NEW No.</text>
<text x="46" y="543.9" font-size="5.2" textLength="15.4" lengthAdjust="spacingAndGlyphs" class="b">11/77</text>
<text x="70" y="543.9" font-size="5.2" textLength="10" lengthAdjust="spacingAndGlyphs" class="b">801</text>
<text x="94" y="543.9" font-size="5.2" textLength="15" lengthAdjust="spacingAndGlyphs" class="b">12, 57</text>
<text x="46" y="552.2" font-size="5.2" textLength="15" lengthAdjust="spacingAndGlyphs" class="b">5-79</text>
<text x="74" y="552.2" font-size="5.2" textLength="3" lengthAdjust="spacingAndGlyphs" class="b">7</text>
<text x="94" y="552.2" font-size="5.2" textLength="16.8" lengthAdjust="spacingAndGlyphs" class="b">PG 10</text>
<text x="46" y="560.8" font-size="5.2" textLength="15.4" lengthAdjust="spacingAndGlyphs" class="b">8/93</text>
<text x="74" y="560.8" font-size="5.2" textLength="3" lengthAdjust="spacingAndGlyphs" class="b">8</text>
<text x="94" y="560.8" font-size="5.2" textLength="15" lengthAdjust="spacingAndGlyphs" class="b">14-17</text>
<text x="46" y="569.5" font-size="5.2" textLength="15" lengthAdjust="spacingAndGlyphs" class="b">6-80</text>
<text x="74.5" y="569.5" font-size="5.2" textLength="2" lengthAdjust="spacingAndGlyphs" class="b">1</text>
<text x="94" y="569.5" font-size="5.2" textLength="15" lengthAdjust="spacingAndGlyphs" class="b">18, 19</text>
<text x="46" y="578.3" font-size="5.2" textLength="15.4" lengthAdjust="spacingAndGlyphs" class="b">11/77</text>
<text x="70.5" y="578.3" font-size="5.2" textLength="12" lengthAdjust="spacingAndGlyphs" class="b">1103</text>
<text x="99" y="578.3" font-size="5.2" textLength="6" lengthAdjust="spacingAndGlyphs" class="b">13</text>
<text x="46" y="587.2" font-size="5.2" textLength="15.4" lengthAdjust="spacingAndGlyphs" class="b">5/99</text>
<text x="73" y="587.2" font-size="5.2" textLength="6" lengthAdjust="spacingAndGlyphs" class="b">10</text>
<text x="94" y="587.2" font-size="5.2" textLength="15.5" lengthAdjust="spacingAndGlyphs" class="b">20,21</text>
</g>
<!-- ===== data notes ===== -->
<g id="notes">
<text x="126" y="562.6" font-size="12.2" textLength="204" lengthAdjust="spacingAndGlyphs">M.B. 3/149 SD Banning Colony Lands</text>
<text x="123" y="578" font-size="12.2" textLength="185.5" lengthAdjust="spacingAndGlyphs">M.B. 5/139 Sunnyslope Cemetery</text>
<text x="124" y="587.4" font-size="10" textLength="140" lengthAdjust="spacingAndGlyphs">P.M. 115/80-81 Parcel Map 17716</text>
<text x="128" y="616.2" font-size="6.6" textLength="62" lengthAdjust="spacingAndGlyphs" class="b">DATA: G.L.O. PLAT</text>
<text x="150.4" y="624.2" font-size="6.8" textLength="90.6" lengthAdjust="spacingAndGlyphs" class="b">M.B. 11/26, 13/79, 17/77</text>
<text x="150" y="632.6" font-size="6.8" textLength="114" lengthAdjust="spacingAndGlyphs" class="b">R/S 13/94, 18/28, P.S. 101/81-86</text>
<text x="249" y="613.4" font-size="4.4" textLength="23" lengthAdjust="spacingAndGlyphs" class="t">RS 74/41</text>
<text x="129" y="652.6" font-size="12.6" textLength="42" lengthAdjust="spacingAndGlyphs" class="b">JULY 1969</text>
<rect x="120" y="648.4" width="70" height="6" fill="#fff"/>
<text transform="translate(26.6,645) rotate(-90)" font-size="4.4" textLength="12" lengthAdjust="spacingAndGlyphs" class="t">2-108</text>
</g>
<!-- ===== title block ===== -->
<g id="title">
<text x="785" y="620.6" font-size="8.6" textLength="53.75" lengthAdjust="spacingAndGlyphs" class="b">ASSESSOR'S</text>
<text x="846.25" y="620.6" font-size="8.6" textLength="20" lengthAdjust="spacingAndGlyphs" class="b">MAP</text>
<text x="873.75" y="620.6" font-size="8.6" textLength="14.6" lengthAdjust="spacingAndGlyphs" class="b">BK.</text>
<text x="891.25" y="620.6" font-size="8.6" textLength="17.5" lengthAdjust="spacingAndGlyphs" class="b">535</text>
<text x="913.75" y="620.6" font-size="8.6" textLength="25.75" lengthAdjust="spacingAndGlyphs" class="b">PG. 08</text>
<text x="802" y="630.2" font-size="8.6" textLength="44.25" lengthAdjust="spacingAndGlyphs" class="b">RIVERSIDE</text>
<text x="854.5" y="630.2" font-size="8.6" textLength="35.5" lengthAdjust="spacingAndGlyphs" class="b">COUNTY,</text>
<text x="897" y="630.2" font-size="8.6" textLength="28" lengthAdjust="spacingAndGlyphs" class="b">CALIF.</text>
<text x="927.6" y="631" font-size="3.6" class="t">66</text>
<text x="913" y="645.4" font-size="11.6" textLength="58" lengthAdjust="spacingAndGlyphs" style="font-style:normal;fill:#5c5c5c;stroke:none">JUN 1 1 1999</text>
<line x1="875" y1="646.6" x2="990" y2="646.6" stroke="#cfcfcf" stroke-width="0.8" stroke-dasharray="3 2"/>
</g>
</svg>
</body>
</html>
